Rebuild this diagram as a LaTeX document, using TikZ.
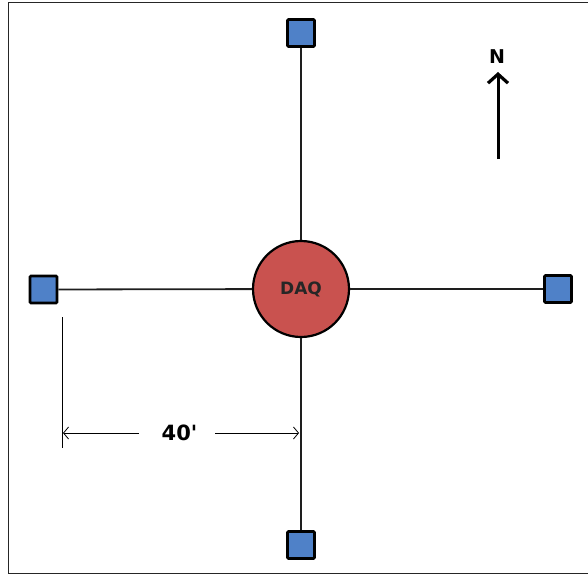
\documentclass[tikz,border=0pt]{standalone}
\usepackage{fontspec}
\setmainfont{DejaVu Sans}[Ligatures=TeXOff]
\usetikzlibrary{arrows.meta}
\definecolor{sqblue}{RGB}{79,129,200}
\definecolor{daqred}{RGB}{201,82,79}
\definecolor{linegray}{RGB}{30,30,30}
\tikzset{
  sensor/.style={draw=black, line width=2.8pt, fill=sqblue, minimum size=27pt, inner sep=0pt, rounded corners=1pt},
  hub/.style={circle, draw=black, line width=2.2pt, fill=daqred, minimum size=96pt, inner sep=0pt, font=\fontsize{17}{19}\selectfont\bfseries, text=black!85},
  cable/.style={draw=linegray, line width=1.8pt},
  dimline/.style={draw=black, line width=0.8pt},
  dimarrow/.style={dimline, -{Straight Barb[length=5pt,width=12pt]}},
}
\begin{document}
\begin{tikzpicture}[x=1pt,y=-1pt]
\useasboundingbox (0,0) rectangle (588,575);
% frame (right edge outside view)
\draw[line width=1pt, draw=black!85] (600,3) -- (8,3) -- (8,573) -- (600,573);
% nodes
\node[hub] (daq) at (301,289) {DAQ};
\node[sensor] (n) at (301,33) {};
\node[sensor] (s) at (301,545) {};
\node[sensor] (w) at (43.5,289.5) {};
\node[sensor] (e) at (558,289) {};
% cables
\draw[cable] (daq) -- (n);
\draw[cable] (daq) -- (s);
\draw[cable] (daq) -- (w);
\draw[cable] (daq) -- (e);
% dimension
\coordinate (extTop) at (62,317);
\coordinate (extBot) at (62,448);
\draw[dimline] (extTop) -- (extBot);
\node[font=\fontsize{21}{24}\selectfont\bfseries, inner sep=0pt] (dim) at (179.5,433) {40'};
\coordinate (dimL) at (63,433);
\coordinate (dimR) at (299,433);
\coordinate (dimLs) at (139,433);
\coordinate (dimRs) at (215,433);
\draw[dimarrow] (dimLs) -- (dimL);
\draw[dimarrow] (dimRs) -- (dimR);
% north arrow
\node[font=\fontsize{19}{22}\selectfont\bfseries, inner sep=0pt] (north) at (497,57) {N};
\coordinate (ntail) at (498,159);
\coordinate (ntip) at (498,72);
\draw[line width=3pt, -{Straight Barb[length=9pt,width=20pt,line width=3.2pt]}] (ntail) -- (ntip);
\end{tikzpicture}
\end{document}
